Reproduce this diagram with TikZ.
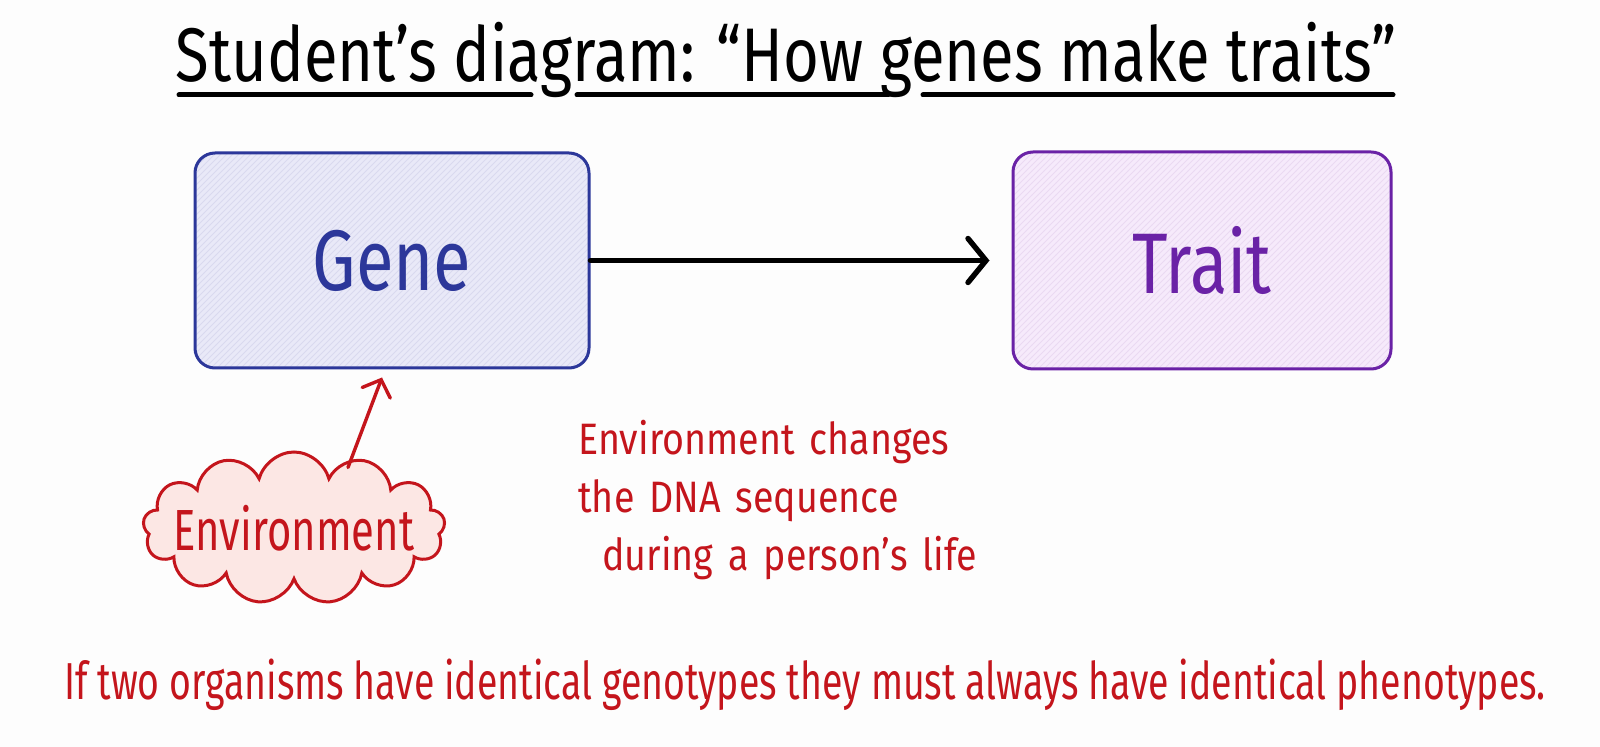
\documentclass[tikz,border=0pt]{standalone}
\usepackage{fontspec}
\setmainfont{Fira Sans}[FakeStretch=0.72]
\newfontfamily\titlefont{Fira Sans}[FakeStretch=0.81]
\newfontfamily\boxfont{Fira Sans}[FakeStretch=0.8]
\newfontfamily\notefont{Fira Sans}[FakeStretch=0.855, WordSpace=1.5]
\usetikzlibrary{shapes.symbols, arrows.meta, patterns, positioning}

\definecolor{bgcol}{HTML}{FDFDFD}
\definecolor{geneblue}{HTML}{2C379A}
\definecolor{genefill}{HTML}{E9E9F8}
\definecolor{genehatch}{HTML}{D9D9EF}
\definecolor{traitpurple}{HTML}{6A22A6}
\definecolor{traitfill}{HTML}{F6EAFB}
\definecolor{traithatch}{HTML}{EAD9F2}
\definecolor{redink}{HTML}{C4151C}
\definecolor{cloudfill}{HTML}{FCE7E4}

\begin{document}
\begin{tikzpicture}[
    x=0.5pt, y=-0.5pt,
    box/.style={rectangle, rounded corners=10pt, line width=1.5pt, align=center},
    genebox/.style={box, preaction={fill=genefill}, preaction={pattern=north east lines, pattern color=genehatch},
        draw=geneblue, text=geneblue,
        minimum width=197pt, minimum height=107.5pt, font=\boxfont\fontsize{43}{50}\selectfont},
    traitbox/.style={box, preaction={fill=traitfill}, preaction={pattern=north east lines, pattern color=traithatch},
        draw=traitpurple, text=traitpurple,
        minimum width=189pt, minimum height=108.5pt, font=\boxfont\fontsize{43}{50}\selectfont},
    envcloud/.style={cloud, cloud puffs=13, cloud ignores aspect, draw=redink, fill=cloudfill,
        line width=1.5pt, minimum width=151pt, minimum height=76pt, inner sep=0pt},
    redtext/.style={text=redink, inner sep=0pt},
    arr/.style={-{Straight Barb[length=9pt, width=22pt, line cap=round]}, line width=2.7pt, line cap=round},
    redarr/.style={-{Straight Barb[length=7pt, width=15pt, line cap=round]}, line width=1.7pt, draw=redink, line cap=round},
    uline/.style={line width=2.5pt, line cap=round}
]
\useasboundingbox[fill=bgcol] (0,0) rectangle (1600,747);

% Title
\node[anchor=base, inner sep=0pt, font=\titlefont\fontsize{38}{44}\selectfont] (title) at (786,82)
    {Student’s diagram: “How genes make traits”};
\draw[uline] (179,95) -- (531,95);
\draw[uline] (577,95) -- (888,95);
\draw[uline] (923,95) -- (1393,95);

% Gene and trait
\node[genebox] (gene) at (392,260.5) {Gene};
\node[traitbox, right=210.5pt of gene] (trait) {Trait};
\draw[arr, shorten >=11pt] (gene) -- (trait);

% Environment cloud
\node[envcloud, label={[redtext, font=\fontsize{29}{34}\selectfont]center:Environment}] (env) at (294,528) {};
\draw[redarr] ([xshift=27pt, yshift=-8.5pt]env.north) -- ([xshift=-5pt, yshift=-4pt]gene.south);

% Student's note
\node[redtext, anchor=north west, align=left, font=\notefont\fontsize{22}{29}\selectfont] (note) at (578,420)
    {Environment changes\\the DNA sequence\\\hspace*{12pt}during a person’s life};

% Claim
\node[redtext, anchor=base, font=\fontsize{26}{30}\selectfont] (claim) at (805,699)
    {If two organisms have identical genotypes they must always have identical phenotypes.};

\end{tikzpicture}
\end{document}
